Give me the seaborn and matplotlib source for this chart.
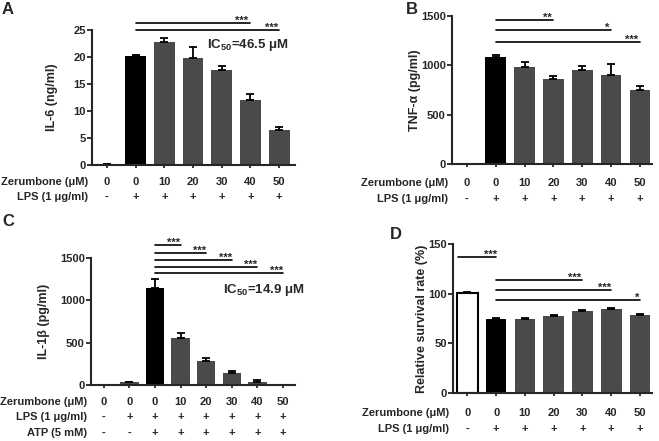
"""
Zerumbone dose-response bar panels (IL-6, TNF-a, IL-1b, survival)
"""

import numpy as np
import matplotlib
matplotlib.use('Agg')
import matplotlib.pyplot as plt
import seaborn as sns

sns.set_style('ticks')
plt.rcParams['font.family'] = ['Liberation Sans', 'DejaVu Sans']
plt.rcParams['font.weight'] = 'bold'
plt.rcParams['mathtext.fontset'] = 'custom'
plt.rcParams['mathtext.rm'] = 'Liberation Sans:bold'
plt.rcParams['mathtext.bf'] = 'Liberation Sans:bold'

BLACK = '#000000'
GRAY = '#4a4a4a'
FS = 8
FS_LAB = 9

# ── data ─────────────────────────────────────────────────────────────────────
zer_abd = ['0', '0', '10', '20', '30', '40', '50']
lps_abd = ['-', '+', '+', '+', '+', '+', '+']

il6 = [0.1, 20.1, 22.8, 19.9, 17.6, 12.0, 6.4]
il6_err = [0, 0.3, 0.8, 1.9, 0.7, 1.2, 0.6]

tnf = [0, 1082, 980, 862, 953, 905, 750]
tnf_err = [0, 22, 55, 33, 38, 112, 40]

zer_c = ['0', '0', '0', '10', '20', '30', '40', '50']
lps_c = ['-', '+', '+', '+', '+', '+', '+', '+']
atp_c = ['-', '-', '+', '+', '+', '+', '+', '+']
il1b = [0, 35, 1150, 551, 283, 142, 39, 5]
il1b_err = [0, 0, 105, 63, 32, 18, 15, 0]

surv = [100.2, 74.3, 74.8, 78.0, 83.0, 85.0, 78.5]
surv_err = [1.4, 1.0, 0.8, 0.8, 0.7, 0.7, 0.7]

fig = plt.figure(figsize=(6.59, 4.41), dpi=100)
W, H = 659, 441


def make_ax(l, r, t, b):
    return fig.add_axes([l / W, 1 - b / H, (r - l) / W, (b - t) / H])


def bars(ax, vals, errs, colors, xlim, ylim, yticks, ylabel, label_x, edge=None):
    n = len(vals)
    sns.barplot(x=list(range(n)), y=vals, hue=list(range(n)), palette=colors,
                legend=False, width=0.72, ax=ax, saturation=1, linewidth=0)
    if edge is not None:
        p = ax.patches[edge]
        p.set_edgecolor('black')
        p.set_linewidth(1.5)
    ax.errorbar(range(n), vals, yerr=[np.zeros(n), errs], fmt='none',
                ecolor='black', elinewidth=1.3, capsize=3.2, capthick=1.3)
    ax.set_xlim(*xlim)
    ax.set_ylim(*ylim)
    ax.set_yticks(yticks)
    ax.set_yticklabels([str(t) for t in yticks], fontsize=FS, fontweight='bold')
    ax.set_xticks(range(n))
    ax.set_xticklabels([])
    ax.tick_params(axis='y', length=3.5, width=1.3, pad=1)
    ax.tick_params(axis='x', length=2.5, width=1.3)
    ax.set_xlabel('')
    ax.set_ylabel(ylabel, fontsize=FS_LAB, fontweight='bold')
    ax.yaxis.set_label_coords(label_x, 0.5)
    for s in ['left', 'bottom']:
        ax.spines[s].set_linewidth(1.5)
    sns.despine(ax=ax)


def rows(ax, names, labels, offsets):
    for name, labs, off in zip(names, labels, offsets):
        ax.annotate(name, xy=(0, 0), xycoords='axes fraction',
                    xytext=(-3, -off * 0.72), textcoords='offset points',
                    ha='right', va='center', fontsize=FS, fontweight='bold')
        for i, t in enumerate(labs):
            ax.annotate(t, xy=(i, 0), xycoords=('data', 'axes fraction'),
                        xytext=(0, -off * 0.72), textcoords='offset points',
                        ha='center', va='center', fontsize=FS, fontweight='bold')


def sig(ax, x0, x1, y, stars, xs):
    ax.plot([x0, x1], [y, y], color='black', lw=1.2, clip_on=False)
    ax.annotate(stars, xy=(xs, y), xytext=(0, -2), textcoords='offset points',
                ha='center', va='bottom', fontsize=8, fontweight='bold',
                annotation_clip=False)


# ── A: IL-6 ──────────────────────────────────────────────────────────────────
axA = make_ax(92, 295, 30, 165)
bars(axA, il6, il6_err, [BLACK if i == 1 else GRAY for i in range(7)],
     (-0.52, 6.55), (0, 25), [0, 5, 10, 15, 20, 25], 'IL-6 (ng/ml)', -0.167)
rows(axA, ['Zerumbone (μM)', 'LPS (1 μg/ml)'], [zer_abd, lps_abd], [17, 32])
sig(axA, 1, 5, 26.3, '***', 4.7)
sig(axA, 1, 6, 25.0, '***', 5.75)
axA.text(3.48, 22.2, r'IC$_{\mathbf{50}}$=46.5 μM', fontsize=9.5,
         fontweight='bold', ha='left', va='center')

# ── B: TNF-a ─────────────────────────────────────────────────────────────────
axB = make_ax(452, 652, 16, 164)
bars(axB, tnf, tnf_err, [BLACK if i == 1 else GRAY for i in range(7)],
     (-0.52, 6.42), (0, 1500), [0, 500, 1000, 1500], 'TNF-α (pg/ml)', -0.155)
rows(axB, ['Zerumbone (μM)', 'LPS (1 μg/ml)'], [zer_abd, lps_abd], [19, 35])
sig(axB, 1, 3, 1456, '**', 2.8)
sig(axB, 1, 5, 1355, '*', 4.85)
sig(axB, 1, 6, 1238, '***', 5.7)

# ── C: IL-1b ─────────────────────────────────────────────────────────────────
axC = make_ax(91, 295, 258, 385)
bars(axC, il1b, il1b_err, [BLACK if i == 2 else GRAY for i in range(8)],
     (-0.5, 7.47), (0, 1500), [0, 500, 1000, 1500], 'IL-1β (pg/ml)', -0.201)
rows(axC, ['Zerumbone (μM)', 'LPS (1 μg/ml)', 'ATP (5 mM)'],
     [zer_c, lps_c, atp_c], [17, 32, 48])
for k, y in enumerate([1650, 1563, 1480, 1394, 1327]):
    sig(axC, 2, 3 + k, y, '***', 2.74 + k)
axC.text(4.65, 1122, r'IC$_{\mathbf{50}}$=14.9 μM', fontsize=9.5,
         fontweight='bold', ha='left', va='center')

# ── D: survival ──────────────────────────────────────────────────────────────
axD = make_ax(453, 652, 244, 393)
bars(axD, surv, surv_err, ['white', BLACK] + [GRAY] * 5,
     (-0.5, 6.42), (0, 150), [0, 50, 100, 150], 'Relative survival rate (%)',
     -0.126, edge=0)
rows(axD, ['Zerumbone (μM)', 'LPS (1 μg/ml)'], [zer_abd, lps_abd], [20, 36])
sig(axD, -0.34, 1, 136.6, '***', 0.8)
sig(axD, 1, 4, 114, '***', 3.74)
sig(axD, 1, 5, 104, '***', 4.77)
sig(axD, 1, 6, 94, '*', 5.9)

# ── panel letters ────────────────────────────────────────────────────────────
for letter, x, y in [('A', 2, 10), ('B', 406, 9), ('C', 2, 222), ('D', 390, 234)]:
    fig.text(x / W, 1 - y / H, letter, fontsize=12, fontweight='bold',
             ha='left', va='center')

fig.savefig('out.png', dpi=100)
